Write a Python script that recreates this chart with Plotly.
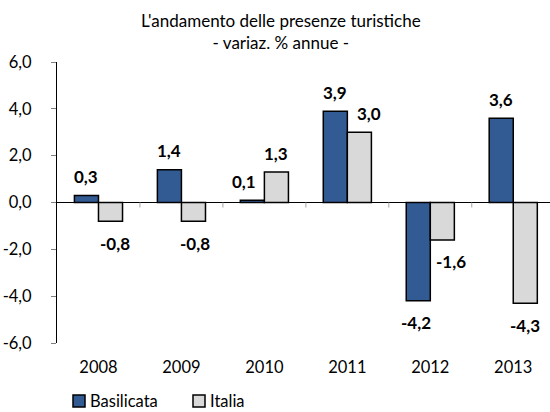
import plotly.graph_objects as go

years = ["2008", "2009", "2010", "2011", "2012", "2013"]
basilicata = [0.3, 1.4, 0.1, 3.9, -4.2, 3.6]
italia = [-0.8, -0.8, 1.3, 3.0, -1.6, -4.3]
series_names = ["Basilicata", "Italia"]
y_ticks = [-6, -4, -2, 0, 2, 4, 6]

FONT = "Lato"
BLUE = "#325A93"
GRAY = "#D9D9D9"
W, H = 550, 412
ML, MR, MT, MB = 57, 0, 62, 69
PW, PH = W - ML - MR, H - MT - MB
BARGAP = 0.42
# small horizontal nudges (px) of a few labels, as placed in the original
LABEL_NUDGE = {(1, 0): 4, (1, 1): 2, (1, 4): 9, (0, 4): -2, (1, 3): 10, (0, 2): -8}


def fmt(v):
    return f"{v:.1f}".replace(".", ",")


def px_x(p):  # pixel -> paper x
    return (p - ML) / PW


def px_y(p):  # pixel -> paper y
    return (H - MB - p) / PH


fig = go.Figure()
colors = [BLUE, GRAY]
all_vals = [basilicata, italia]
for name, vals, col in zip(series_names, all_vals, colors):
    fig.add_trace(go.Bar(
        name=name, x=years, y=vals, showlegend=False, hoverinfo="skip",
        marker=dict(color=col, line=dict(color="#000000", width=1.5)),
    ))

# data labels
n = len(years)
bw = (1 - BARGAP) / 2
for j, vals in enumerate(all_vals):
    for i, v in enumerate(vals):
        fig.add_annotation(
            x=i + (-0.5 + j) * bw, y=v, xref="x", yref="y",
            text=f"<b>{fmt(v)}</b>", showarrow=False,
            yanchor="middle",
            xshift=LABEL_NUDGE.get((j, i), 0),
            yshift=19 if v >= 0 else -22,
            font=dict(family=FONT, size=17, color="#000000"),
        )

# small category tick marks on the zero line
for i in range(n - 1):
    fig.add_shape(type="line", xref="x", yref="y", x0=i + 0.5, x1=i + 0.5,
                  ysizemode="pixel", yanchor=0, y0=0, y1=-5,
                  line=dict(color="#A6A6A6", width=1))

# title
fig.add_annotation(
    xref="paper", yref="paper", x=px_x(281), y=px_y(31), xanchor="center", yanchor="middle",
    text="L'andamento delle presenze turistiche<br>- variaz. % annue -",
    showarrow=False, align="center",
    font=dict(family=FONT, size=17, color="#000000"),
)

# legend (drawn as boxes + text below the plot)
legend_x = [73, 193]
for name, col, lx in zip(series_names, colors, legend_x):
    fig.add_shape(type="rect", xref="paper", yref="paper",
                  x0=px_x(lx), x1=px_x(lx + 12), y0=px_y(407), y1=px_y(395),
                  fillcolor=col, line=dict(color="#000000", width=1.5))
    fig.add_annotation(xref="paper", yref="paper", x=px_x(lx + 15), y=px_y(401),
                       xanchor="left", yanchor="middle", text=name, showarrow=False,
                       font=dict(family=FONT, size=16.5, color="#000000"))

fig.update_layout(
    width=W, height=H,
    margin=dict(l=ML, r=MR, t=MT, b=MB, autoexpand=False),
    paper_bgcolor="white", plot_bgcolor="white",
    barmode="group", bargap=BARGAP, bargroupgap=0,
    font=dict(family=FONT, size=16, color="#000000"),
    showlegend=False,
    xaxis=dict(type="category", range=[-0.5, 5.443], showline=False, ticks="",
               showgrid=False, zeroline=False, tickfont=dict(family=FONT, size=16.5),
               ticklabelstandoff=12),
    yaxis=dict(range=[-6, 6], tickvals=y_ticks, ticktext=[fmt(v) for v in y_ticks],
               showline=True, linecolor="#000000", linewidth=1,
               ticks="outside", ticklen=5, tickcolor="#7F7F7F",
               showgrid=False, zeroline=True, zerolinecolor="#000000", zerolinewidth=1,
               tickfont=dict(family=FONT, size=16.5), ticklabelstandoff=16),
)

fig.write_html("out.html", config={"displayModeBar": False, "staticPlot": True},
               post_script="document.body.style.margin='0';document.body.style.overflow='hidden';")
